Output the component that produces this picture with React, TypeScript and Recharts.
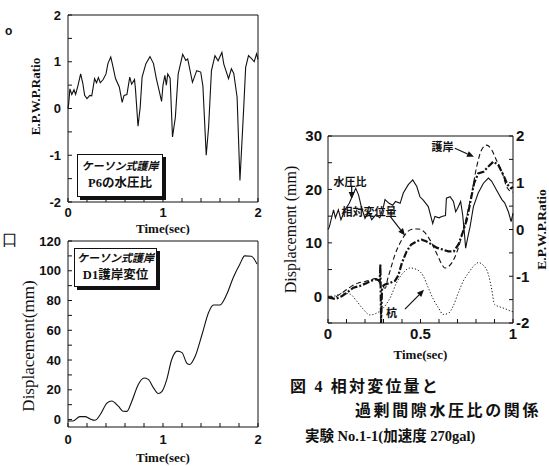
import React from "react";
import { LineChart, Line, XAxis, YAxis, ReferenceLine, ReferenceDot } from "recharts";

// P6 pore-water-pressure ratio (top left)
const p6Time = [0, 0.007, 0.02, 0.04, 0.063, 0.08, 0.105, 0.133, 0.155, 0.175, 0.2, 0.23, 0.25, 0.28, 0.3, 0.32, 0.34, 0.37, 0.4, 0.42, 0.45, 0.47, 0.5, 0.54, 0.57, 0.59, 0.62, 0.65, 0.67, 0.7, 0.71, 0.737, 0.76, 0.78, 0.82, 0.863, 0.9, 0.93, 0.955, 0.985, 1.0, 1.02, 1.035, 1.05, 1.075, 1.1, 1.13, 1.16, 1.207, 1.24, 1.26, 1.31, 1.355, 1.397, 1.42, 1.455, 1.48, 1.51, 1.547, 1.58, 1.62, 1.64, 1.69, 1.72, 1.745, 1.78, 1.81, 1.85, 1.87, 1.9, 1.93, 1.96, 1.985, 2.0];
const p6Ratio = [0, 0.1, 0.42, 0.3, 0.4, 0.3, 0.49, 0.74, 0.55, 0.28, 0.21, 0.28, 0.27, 0.64, 0.55, 0.66, 0.55, 0.62, 0.74, 0.96, 1.1, 0.93, 0.64, 0.46, 0.13, 0.28, 0.3, 0.67, 0.52, 0.62, 0.42, -0.38, 0.03, 0.67, 0.96, 1.11, 0.96, 0.64, 0.42, 0.15, 0.5, 0.71, 0.5, 0.74, 0.65, -0.61, -0.19, 0.74, 1.16, 1.03, 1.06, 0.56, 0.81, 0.78, 0.48, -1.0, -0.4, 0.81, 1.13, 1.02, 1.2, 0.95, 0.64, 0.85, 0.75, 0.24, -1.54, 0.03, 0.88, 1.13, 1.07, 1.0, 1.17, 1.05];

// D1 seawall displacement (bottom left)
const d1Time = [0, 0.05, 0.126, 0.18, 0.23, 0.284, 0.34, 0.41, 0.46, 0.53, 0.58, 0.62, 0.67, 0.74, 0.8, 0.845, 0.9, 0.95, 0.99, 1.04, 1.09, 1.15, 1.2, 1.25, 1.28, 1.34, 1.41, 1.48, 1.53, 1.6, 1.67, 1.74, 1.81, 1.86, 1.93, 1.99];
const d1Disp = [-1, -1, 2, 2, 0.5, -0.5, 3.4, 11, 12.5, 9, 5.6, 5.5, 12, 23.6, 27.9, 27, 21.3, 17.5, 19, 27, 40, 46, 45, 38, 37, 42.7, 57, 72, 77, 77, 84, 95.5, 104.6, 110, 109.7, 104.5];

// right chart: 水圧比 (right axis)
const wpTime = [0, 0.007, 0.03, 0.04, 0.056, 0.07, 0.092, 0.115, 0.13, 0.15, 0.165, 0.18, 0.2, 0.22, 0.236, 0.26, 0.28, 0.3, 0.308, 0.33, 0.35, 0.365, 0.39, 0.407, 0.434, 0.458, 0.48, 0.497, 0.515, 0.542, 0.566, 0.578, 0.6, 0.615, 0.635, 0.64, 0.66, 0.678, 0.69, 0.7, 0.717, 0.728, 0.738, 0.744, 0.755, 0.768, 0.786, 0.812, 0.84, 0.867, 0.885, 0.91, 0.94, 0.955, 0.975, 0.99, 1.0];
const wpRatio = [0, 0.05, 0.42, 0.25, 0.42, 0.21, 0.42, 0.56, 0.7, 0.88, 0.74, 0.49, 0.24, 0.38, 0.21, 0.32, 0.25, 0.49, 0.64, 0.56, 0.52, 0.6, 0.56, 0.78, 0.96, 1.06, 0.92, 0.7, 0.63, 0.49, 0.13, 0.28, 0.25, 0.28, 0.3, 0.67, 0.7, 0.6, 0.38, 0.45, 0.6, 0.31, -0.11, -0.4, -0.18, 0.06, 0.49, 0.78, 0.99, 1.1, 1.03, 0.85, 0.64, 0.57, 0.38, 0.17, 0.35];

// 護岸 (dashed)
const wallTime = [0, 0.03, 0.065, 0.09, 0.128, 0.164, 0.19, 0.227, 0.254, 0.272, 0.29, 0.31, 0.32, 0.34, 0.362, 0.39, 0.416, 0.45, 0.488, 0.524, 0.56, 0.59, 0.615, 0.632, 0.67, 0.695, 0.72, 0.75, 0.777, 0.804, 0.83, 0.857, 0.885, 0.91, 0.94, 0.966, 0.99, 1.0];
const wallDisp = [-0.2, -0.2, 0.4, 1.0, 1.9, 2.5, 2.7, 3.0, 3.3, 2.9, 1.9, 1.5, 2.9, 5.3, 7.8, 10, 11.5, 12.5, 12.6, 11.9, 10, 7.8, 6, 5.3, 6.3, 8.1, 10.9, 15, 19.3, 24.3, 27.4, 28.3, 27.4, 25.5, 23.3, 20.5, 19.6, 19.5];

// 相対変位量 (dash-dot)
const relTime = [0, 0.04, 0.074, 0.1, 0.137, 0.17, 0.21, 0.235, 0.26, 0.28, 0.283, 0.287, 0.292, 0.3, 0.308, 0.335, 0.362, 0.38, 0.4, 0.425, 0.45, 0.48, 0.506, 0.53, 0.56, 0.587, 0.615, 0.65, 0.68, 0.705, 0.728, 0.75, 0.768, 0.79, 0.812, 0.84, 0.867, 0.894, 0.92, 0.948, 0.97, 0.99, 1.0];
const relDisp = [-0.2, -0.5, 0, 0.6, 1.6, 1.9, 2.5, 2.9, 3.2, 2.9, 6, -5, 1.5, 2.0, 2.2, 2.5, 2.9, 3.9, 6.3, 8.4, 9.7, 10.3, 10.6, 10.3, 9.7, 9.1, 8.8, 8.4, 8.4, 9.7, 11.9, 14.3, 17.4, 21.2, 23, 23.3, 24.3, 25.2, 24.6, 22.7, 20.9, 20.2, 20.5];

// 杭 (dotted)
const pileTime = [0, 0.04, 0.08, 0.12, 0.155, 0.19, 0.227, 0.26, 0.29, 0.34, 0.37, 0.407, 0.443, 0.48, 0.515, 0.542, 0.57, 0.596, 0.623, 0.65, 0.677, 0.705, 0.732, 0.76, 0.786, 0.812, 0.84, 0.867, 0.885, 0.9, 0.93, 0.955, 0.99, 1.0];
const pileDisp = [-0.2, 0.1, 0.6, 0.4, -0.9, -2.4, -3.5, -3.2, -2.5, 0, 2.5, 4.4, 5.3, 5, 3.8, 1.6, -0.6, -2.1, -3.4, -3.2, -1.8, 0.7, 2.9, 4.4, 5.6, 6.3, 5.8, 4.1, 1.3, -1.5, -2, -2.3, -2.8, -2.9];

const leftTimeTicks = [0, 0.2, 0.4, 0.6, 0.8, 1, 1.2, 1.4, 1.6, 1.8, 2];
const ratioTicks = [-2, -1.5, -1, -0.5, 0, 0.5, 1, 1.5, 2];
const d1Ticks = [0, 10, 20, 30, 40, 50, 60, 70, 80, 90, 100, 110, 120];
const rightTimeTicks = [0, 0.1, 0.2, 0.3, 0.4, 0.5, 0.6, 0.7, 0.8, 0.9, 1];
const rightDispTicks = [-5, 0, 5, 10, 15, 20, 25, 30];

const zip = (ts: number[], vs: number[]) => ts.map((t, i) => ({ t, v: vs[i] }));

const INK = "#111";
const tickFont = (size: number) => ({ fontFamily: "'Liberation Sans', Arial, sans-serif", fontWeight: 700, fontSize: size, fill: INK });
const serif = "'Liberation Serif', 'Times New Roman', serif";
const jp = "'Liberation Serif', 'Noto Sans CJK JP', sans-serif";

const only = (keep: number[]) => (v: number) => (keep.includes(v) ? String(v) : "");

const yTitle = (text: string, dx: number, dy: number, size: number, weight: number) => (props: any) => {
  const { x, y, width, height } = props.viewBox;
  const cx = x + width / 2 + dx;
  const cy = y + height / 2 + dy;
  return (
    <text x={cx} y={cy} transform={`rotate(-90 ${cx} ${cy})`} textAnchor="middle" dominantBaseline="central"
      fontFamily={serif} fontSize={size} fontWeight={weight} fill={INK}>{text}</text>
  );
};

const xTitle = (text: string, off: number) => (props: any) => {
  const { x, y, width, height } = props.viewBox;
  return (
    <text x={x + width / 2} y={y + height - off} textAnchor="middle" fontFamily={serif} fontSize={13} fontWeight={700} fill={INK}>{text}</text>
  );
};

const arrow = (props: any) => {
  const { x1, y1, x2, y2 } = props;
  const a = Math.atan2(y2 - y1, x2 - x1);
  const L = 7, W = 3;
  const bx = x2 - L * Math.cos(a), by = y2 - L * Math.sin(a);
  const pts = `${x2},${y2} ${bx - W * Math.sin(a)},${by + W * Math.cos(a)} ${bx + W * Math.sin(a)},${by - W * Math.cos(a)}`;
  return (
    <g>
      <line x1={x1} y1={y1} x2={bx} y2={by} stroke={INK} strokeWidth={1.2} />
      <polygon points={pts} fill={INK} />
    </g>
  );
};

const note = (text: string) => (props: any) => (
  <text x={props.cx} y={props.cy} textAnchor="middle" dominantBaseline="central" fontFamily="'Noto Sans CJK JP', sans-serif" fontSize={11} fontWeight={700} fill={INK}>{text}</text>
);

const axisLine = { stroke: INK, strokeWidth: 1 };
const tickLine = { stroke: INK, strokeWidth: 1 };

const boxStyle: React.CSSProperties = {
  position: "absolute", background: "#fff", border: "1px solid #111", boxShadow: "3px 3px 0 #111",
  textAlign: "center", color: INK, fontFamily: jp, fontWeight: 700, lineHeight: "17px",
};

const captionStyle: React.CSSProperties = {
  position: "absolute", fontFamily: jp, fontWeight: 600, color: INK, whiteSpace: "nowrap",
};

export default function App() {
  const p6 = zip(p6Time, p6Ratio);
  const d1 = zip(d1Time, d1Disp);
  return (
    <div style={{ position: "absolute", left: 0, top: 0, width: 549, height: 466, background: "#fff" }}>
      {/* clipped text of the neighbouring column */}
      <div style={{ position: "absolute", left: 5, top: 24, fontFamily: "'Liberation Sans', sans-serif", fontWeight: 700, fontSize: 12, color: INK }}>o</div>
      <div style={{ position: "absolute", left: 2, top: 230, fontFamily: serif, fontSize: 16, color: INK }}>口</div>

      {/* top left: P6 ratio */}
      <div style={{ position: "absolute", left: 0, top: 0 }}>
        <LineChart width={275} height={235} data={p6} margin={{ top: 14, right: 16, bottom: 0, left: 0 }}>
          <XAxis dataKey="t" type="number" domain={[0, 2]} ticks={leftTimeTicks} tickFormatter={only([0, 1, 2])}
            tick={tickFont(13)} tickSize={-4} tickMargin={10} height={33} axisLine={axisLine} tickLine={tickLine}
            label={xTitle("Time(sec)", 2)} />
          <XAxis xAxisId="top" orientation="top" type="number" domain={[0, 2]} ticks={leftTimeTicks} tick={false}
            tickSize={-4} height={1} axisLine={axisLine} tickLine={tickLine} />
          <YAxis type="number" domain={[-2, 2]} ticks={ratioTicks} tickFormatter={only([-2, -1, 0, 1, 2])}
            tick={tickFont(13)} tickSize={-4} tickMargin={11} width={68} axisLine={axisLine} tickLine={tickLine}
            label={yTitle("E.P.W.P.Ratio", 1, -12, 13, 700)} />
          <YAxis yAxisId="r" orientation="right" type="number" domain={[-2, 2]} ticks={ratioTicks} tick={false}
            tickSize={-4} width={1} axisLine={axisLine} tickLine={tickLine} />
          <Line dataKey="v" type="linear" stroke={INK} strokeWidth={1.1} dot={false} isAnimationActive={false} />
        </LineChart>
      </div>
      <div style={{ ...boxStyle, left: 77, top: 154, width: 84, height: 41 }}>
        <div style={{ fontSize: 11, fontStyle: "italic", marginTop: 3 }}>ケーソン式護岸</div>
        <div style={{ fontSize: 12.5 }}>P6の水圧比</div>
      </div>

      {/* bottom left: D1 displacement */}
      <div style={{ position: "absolute", left: 0, top: 220 }}>
        <LineChart width={275} height={246} data={d1} margin={{ top: 20, right: 16, bottom: 0, left: 0 }}>
          <XAxis dataKey="t" type="number" domain={[0, 2]} ticks={leftTimeTicks} tickFormatter={only([0, 1, 2])}
            tick={tickFont(13)} tickSize={-4} tickMargin={12} height={39} axisLine={axisLine} tickLine={tickLine}
            label={xTitle("Time(sec)", 4)} />
          <XAxis xAxisId="top" orientation="top" type="number" domain={[0, 2]} ticks={leftTimeTicks} tick={false}
            tickSize={-4} height={1} axisLine={axisLine} tickLine={tickLine} />
          <YAxis type="number" domain={[-5, 120]} ticks={d1Ticks} tickFormatter={only([0, 20, 40, 60, 80, 100, 120])}
            tick={tickFont(13)} tickSize={-4} tickMargin={11} width={68} axisLine={axisLine} tickLine={tickLine}
            label={yTitle("Displacement(mm)", -6, 12, 17, 400)} />
          <YAxis yAxisId="r" orientation="right" type="number" domain={[-5, 120]} ticks={d1Ticks} tick={false}
            tickSize={-4} width={1} axisLine={axisLine} tickLine={tickLine} />
          <Line dataKey="v" type="monotone" stroke={INK} strokeWidth={1.1} dot={false} isAnimationActive={false} />
        </LineChart>
      </div>
      <div style={{ ...boxStyle, left: 74, top: 248, width: 81, height: 37 }}>
        <div style={{ fontSize: 11, fontStyle: "italic", marginTop: 1 }}>ケーソン式護岸</div>
        <div style={{ fontSize: 12.5 }}>D1護岸変位</div>
      </div>

      {/* right: relative displacement vs ratio */}
      <div style={{ position: "absolute", left: 270, top: 120 }}>
        <LineChart width={279} height={242} margin={{ top: 15, right: 0, bottom: 0, left: 0 }}>
          <XAxis dataKey="t" type="number" domain={[0, 1]} ticks={rightTimeTicks} tickFormatter={only([0, 0.5, 1])}
            tick={tickFont(15)} tickSize={-4} tickMargin={9} height={39} axisLine={axisLine} tickLine={tickLine}
            label={xTitle("Time(sec)", 3)} />
          <XAxis xAxisId="top" orientation="top" type="number" domain={[0, 1]} ticks={rightTimeTicks} tick={false}
            tickSize={-4} height={1} axisLine={axisLine} tickLine={tickLine} />
          <YAxis yAxisId="L" type="number" domain={[-5, 30]} ticks={rightDispTicks} tickFormatter={only([0, 10, 20, 30])}
            tick={tickFont(15)} tickSize={-4} tickMargin={10} width={58} axisLine={axisLine} tickLine={tickLine}
            label={yTitle("Displacement (mm)", -9, 0, 16, 400)} />
          <YAxis yAxisId="R" orientation="right" type="number" domain={[-2, 2]} ticks={ratioTicks} tickFormatter={only([-2, -1, 0, 1, 2])}
            tick={tickFont(15)} tickSize={-4} tickMargin={7} width={36} axisLine={axisLine} tickLine={tickLine}
            label={yTitle("E.P.W.P.Ratio", 10, 0, 13.5, 700)} />
          <Line yAxisId="R" data={zip(wpTime, wpRatio)} dataKey="v" type="linear" stroke={INK} strokeWidth={1.1} dot={false} isAnimationActive={false} />
          <Line yAxisId="L" data={zip(wallTime, wallDisp)} dataKey="v" type="monotone" stroke={INK} strokeWidth={1.1} strokeDasharray="5 3" dot={false} isAnimationActive={false} />
          <Line yAxisId="L" data={zip(relTime, relDisp)} dataKey="v" type="linear" stroke={INK} strokeWidth={2.2} strokeDasharray="7 2 2 2" dot={false} isAnimationActive={false} />
          <Line yAxisId="L" data={zip(pileTime, pileDisp)} dataKey="v" type="monotone" stroke={INK} strokeWidth={1} strokeDasharray="1.2 2" dot={false} isAnimationActive={false} />
          <ReferenceLine yAxisId="L" segment={[{ x: 0.686, y: 27.7 }, { x: 0.789, y: 26.1 }]} shape={arrow} />
          <ReferenceLine yAxisId="L" segment={[{ x: 0.128, y: 20.7 }, { x: 0.128, y: 18.2 }]} shape={arrow} />
          <ReferenceLine yAxisId="L" segment={[{ x: 0.335, y: 15 }, { x: 0.416, y: 11.4 }]} shape={arrow} />
          <ReferenceLine yAxisId="L" segment={[{ x: 0.416, y: -2.4 }, { x: 0.519, y: 1.2 }]} shape={arrow} />
          <ReferenceDot yAxisId="L" x={0.619} y={28.1} r={1} shape={note("護岸")} />
          <ReferenceDot yAxisId="L" x={0.119} y={21.6} r={1} shape={note("水圧比")} />
          <ReferenceDot yAxisId="L" x={0.222} y={15.9} r={1} shape={note("相対変位量")} />
          <ReferenceDot yAxisId="L" x={0.343} y={-3} r={1} shape={note("杭")} />
        </LineChart>
      </div>

      {/* caption */}
      <div style={{ ...captionStyle, left: 290, top: 373, fontSize: 16, letterSpacing: 2.2 }}>図 4 相対変位量と</div>
      <div style={{ ...captionStyle, left: 355, top: 397, fontSize: 16, letterSpacing: 2.6 }}>過剰間隙水圧比の関係</div>
      <div style={{ ...captionStyle, left: 305, top: 424, fontSize: 14.5 }}>実験 No.1-1(加速度 270gal)</div>
    </div>
  );
}
